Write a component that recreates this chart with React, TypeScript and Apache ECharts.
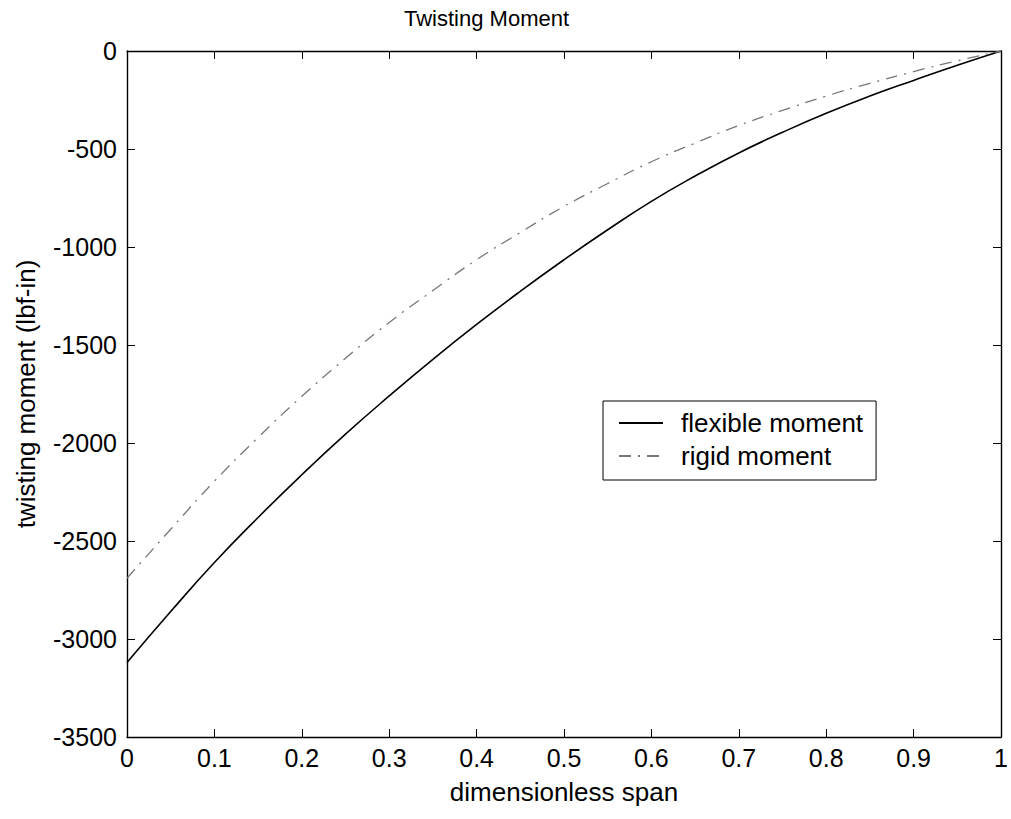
import React, { useEffect, useRef } from "react";
import * as echarts from "echarts";

const spanX = [0, 0.05, 0.1, 0.15, 0.2, 0.25, 0.3, 0.35, 0.4, 0.45, 0.5, 0.55, 0.6, 0.65, 0.7, 0.75, 0.8, 0.85, 0.9, 0.95, 1];
const flexibleMoment = [-3120, -2860, -2610, -2380, -2162, -1955, -1760, -1573, -1395, -1226, -1065, -912, -767, -638, -520, -415, -318, -230, -150, -73, 0];
const rigidMoment = [-2690, -2440, -2195, -1972, -1762, -1568, -1385, -1222, -1065, -926, -793, -676, -565, -470, -380, -303, -230, -165, -105, -50, 0];
const seriesNames = ["flexible moment", "rigid moment"];

const FONT = "Liberation Sans, Arial, Helvetica, sans-serif";

export default function App() {
  const ref = useRef<HTMLDivElement>(null);
  useEffect(() => {
    if (!ref.current) return;
    const chart = echarts.init(ref.current, null, { renderer: "svg" });
    const pairs = (ys: number[]) => spanX.map((x, i) => [x, ys[i]]);
    const axisCommon = {
      type: "value" as const,
      axisLine: { show: true, onZero: false, lineStyle: { color: "#000", width: 1.4 } },
      axisTick: { show: true, inside: true, length: 8, lineStyle: { color: "#000", width: 1 } },
      splitLine: { show: false },
    };
    chart.setOption({
      animation: false,
      backgroundColor: "#fff",
      textStyle: { fontFamily: FONT },
      title: {
        text: "Twisting Moment",
        left: 404,
        top: 7,
        padding: 0,
        textStyle: { fontFamily: FONT, fontSize: 22, fontWeight: "normal", color: "#000" },
      },
      grid: { left: 127, top: 51, width: 874, height: 686, containLabel: false },
      legend: {
        orient: "vertical",
        left: 603,
        top: 401,
        padding: [9, 13, 11, 15],
        itemWidth: 44,
        itemHeight: 14,
        itemGap: 7,
        borderColor: "#000",
        borderWidth: 1,
        backgroundColor: "#fff",
        itemStyle: { opacity: 0 },
        data: seriesNames,
        textStyle: { fontFamily: FONT, fontSize: 26, color: "#000", width: 187, padding: [0, 0, 0, 13] },
      },
      xAxis: [
        {
          ...axisCommon,
          position: "bottom",
          min: 0,
          max: 1,
          interval: 0.1,
          name: "dimensionless span",
          nameLocation: "middle",
          nameGap: 42,
          nameTextStyle: { fontFamily: FONT, fontSize: 26, color: "#000" },
          axisLabel: {
            fontFamily: FONT,
            fontSize: 25,
            color: "#000",
            margin: 8,
            formatter: (v: number) => String(Math.round(v * 10) / 10),
          },
        },
        {
          ...axisCommon,
          position: "top",
          min: 0,
          max: 1,
          interval: 0.1,
          axisLabel: { show: false },
        },
      ],
      yAxis: [
        {
          ...axisCommon,
          position: "left",
          min: -3500,
          max: 0,
          interval: 500,
          name: "twisting moment (lbf-in)",
          nameLocation: "middle",
          nameGap: 88,
          nameTextStyle: { fontFamily: FONT, fontSize: 26, color: "#000" },
          axisLabel: {
            fontFamily: FONT,
            fontSize: 25,
            color: "#000",
            margin: 10,
            formatter: (v: number) => String(v),
          },
        },
        {
          ...axisCommon,
          position: "right",
          min: -3500,
          max: 0,
          interval: 500,
          axisLabel: { show: false },
        },
      ],
      series: [
        {
          name: seriesNames[0],
          type: "line",
          xAxisIndex: 0,
          yAxisIndex: 0,
          data: pairs(flexibleMoment),
          smooth: true,
          showSymbol: false,
          symbol: "none",
          lineStyle: { color: "#000", width: 1.6, type: "solid" },
          itemStyle: { color: "#000" },
        },
        {
          name: seriesNames[1],
          type: "line",
          xAxisIndex: 0,
          yAxisIndex: 0,
          data: pairs(rigidMoment),
          smooth: true,
          showSymbol: false,
          symbol: "none",
          lineStyle: { color: "#777", width: 1.3, type: [12, 7, 2, 7] },
          itemStyle: { color: "#777" },
        },
      ],
    });
    return () => chart.dispose();
  }, []);
  return (
    <div
      ref={ref}
      style={{ position: "absolute", left: 0, top: 0, width: 1011, height: 819, background: "#fff" }}
    />
  );
}
